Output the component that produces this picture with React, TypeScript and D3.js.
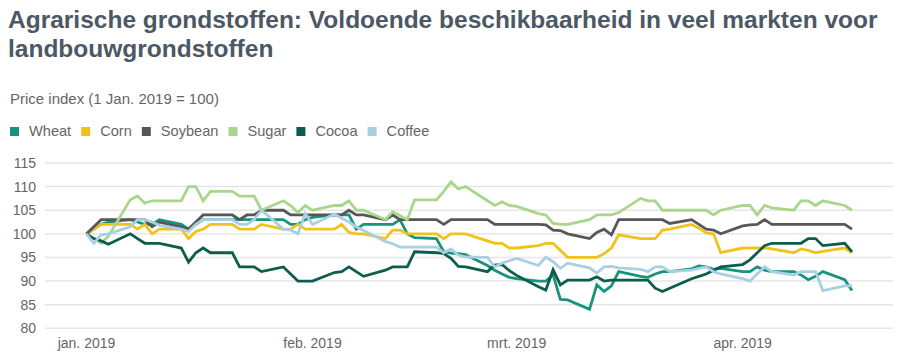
import React, { useEffect, useRef } from 'react';
import * as d3 from 'd3';

// trading days from 1 Jan. 2019 to 16 Apr. 2019 (weekdays only)
const dates = d3.utcDay
    .range(new Date(Date.UTC(2019, 0, 1)), new Date(Date.UTC(2019, 3, 17)))
    .filter(d => d.getUTCDay() !== 0 && d.getUTCDay() !== 6);

const seriesNames = ["Wheat", "Corn", "Soybean", "Sugar", "Cocoa", "Coffee"];
const seriesColors = ["#16947e", "#f1c21b", "#575757", "#a9d68b", "#0c5d4b", "#a8cfe2"];

const wheat = [
    100, 101, 102, 102.5,
    103, 102.5, 102, 102, 103,
    102, 101, 102, 103, 103,
    103, 103, 103, 103, 103,
    103, 102, 102, 103, 103.5,
    104, 104, 104, 101, 102,
    102, 102, 103, 100, 99.2,
    99, 96.2, 95.9, 95.8, 95.6,
    93.3, 92.3, 91.5, 90.8, 90.5,
    90, 90, 91.3, 86.1, 86,
    84, 89.2, 87.8, 89, 92,
    91, 90.8, 91.5, 92, 92,
    92.6, 93.2, 93, 92.5, 92.7,
    92, 92, 93, 92.3, 92,
    92, 91.3, 90.3, 91, 92,
    90.3, 88,
];
const corn = [
    100, 101, 102, 102,
    102, 101, 102, 100, 101,
    101, 99, 100.5, 101, 102,
    102, 101, 101, 101, 102,
    101, 101, 102, 101, 101,
    101, 102, 100.3, 100, 100,
    99, 100.8, 100.8, 100, 100,
    100, 99, 100, 100, 100,
    98.5, 98, 98, 97, 97,
    97.5, 98, 98, 96.5, 95,
    95, 95, 95.8, 97, 99.8,
    99, 99, 99, 100.8, 101,
    102, 101.2, 100.2, 100, 96,
    97, 97, 97, 97, 96.8,
    96, 96.8, 96.5, 96, 96.3,
    97, 96,
];
const soybean = [
    100, 101.5, 103, 103,
    103, 103, 103, 101.5, 102.5,
    101.5, 101, 102.5, 104, 104,
    104, 103, 104, 104, 105,
    105, 104, 104, 104, 104,
    104, 104, 105, 104, 104,
    103, 104, 103, 103, 103,
    103, 102, 103, 103, 103,
    103, 102, 102, 102, 102,
    102, 101.9, 100.8, 100.7, 100,
    99, 100.3, 101, 99.8, 103,
    103, 103, 103, 103, 102.2,
    103, 102, 101, 100.8, 100,
    101.7, 101.9, 102, 103, 102,
    102, 102, 102, 102, 102,
    102, 101,
];
const sugar = [
    100, 99, 98, 99.5,
    107.2, 108, 106.5, 107, 107,
    107, 110, 110, 107, 109,
    109, 108, 108, 108, 105,
    107, 106, 104.5, 106, 105,
    106, 106, 107, 105, 105,
    103, 104.7, 103.9, 103, 107.2,
    107.2, 109, 111, 109.5, 110,
    107, 106, 106.8, 106, 105.8,
    104.3, 104, 102.2, 102, 102,
    103, 104, 104, 104, 104.5,
    107.5, 107, 107, 105, 105,
    105, 105, 105, 104, 105,
    106, 106, 104, 106, 105.5,
    105, 107, 107, 106, 107,
    106, 105,
];
const cocoa = [
    100, 99, 98.5, 97.8,
    100, 99, 98, 98, 98,
    97, 94, 96, 97, 96,
    96, 93, 93, 93, 92,
    93, 91.5, 90, 90, 90,
    91.8, 92, 93, 92, 91,
    92.3, 93, 93, 93, 96.2,
    96, 95.8, 94.8, 93.1, 93,
    92, 93.4, 93.5, 92.2, 91.2,
    88.8, 88.1, 92.4, 89.2, 90.2,
    90.2, 90.9, 90, 90.2, 90.2,
    90.2, 90.2, 88.5, 87.8, 88.5,
    90.5, 91, 91.5, 92.3, 93,
    93.5, 94.5, 96, 97.5, 98,
    98, 98, 99, 99, 97.5,
    98, 96.2,
];
const coffee = [
    100, 98, 99.8, 100,
    101.5, 103, 103, 102.5, 101.8,
    101, 100.5, 102, 103, 103,
    103, 102, 102, 103, 105,
    101, 100.8, 100, 104.3, 102,
    104.2, 103.3, 102.5, 101.5, 100.7,
    98.4, 97.9, 97.2, 97.2, 97.2,
    97.2, 96, 96.8, 95.5, 95.1,
    95, 93, 93.8, 94.3, 94.8,
    93.3, 95.1, 94.1, 92.7, 93.8,
    92.8, 91.7, 93, 93.1, 92.8,
    92.5, 92, 93, 93, 92,
    92.3, 92.7, 93, 92, 91.5,
    90.5, 90, 91.5, 93, 92,
    91.3, 92, 92, 92, 88,
    89, 89,
];
const seriesValues = [wheat, corn, soybean, sugar, cocoa, coffee];

const yTicks = [80, 85, 90, 95, 100, 105, 110, 115];
const monthLabels = ["jan. 2019", "feb. 2019", "mrt. 2019", "apr. 2019"];

const title = ["Agrarische grondstoffen: Voldoende beschikbaarheid in veel markten voor", "landbouwgrondstoffen"];
const subtitle = "Price index (1 Jan. 2019 = 100)";

const font = "'Liberation Sans', Arial, sans-serif";

const App = () => {
    const svgRef = useRef<SVGSVGElement>(null);

    useEffect(() => {
        if (!svgRef.current) return;
        const svg = d3.select(svgRef.current);
        svg.selectAll("*").remove();

        const gridLeft = 45;
        const gridRight = 893;

        const x = d3.scaleUtc()
            .domain([dates[0], dates[dates.length - 1]])
            .range([86.5, 852]);
        const y = d3.scaleLinear()
            .domain([80, 115])
            .range([328.3, 163]);

        // title + subtitle
        svg.append("g").selectAll("text")
            .data(title)
            .enter().append("text")
            .attr("x", 8)
            .attr("y", (d, i) => 28 + i * 29)
            .attr("font-family", font)
            .attr("font-size", 24.5)
            .attr("font-weight", "bold")
            .attr("fill", "#4c5863")
            .text(d => d);

        svg.append("text")
            .attr("x", 10)
            .attr("y", 104)
            .attr("font-family", font)
            .attr("font-size", 15)
            .attr("fill", "#666")
            .text(subtitle);

        // legend
        const legend = svg.append("g");
        let lx = 10;
        seriesNames.forEach((name, i) => {
            legend.append("rect")
                .attr("x", lx)
                .attr("y", 127)
                .attr("width", 9)
                .attr("height", 9)
                .attr("fill", seriesColors[i]);
            const t = legend.append("text")
                .attr("x", lx + 19)
                .attr("y", 136)
                .attr("font-family", font)
                .attr("font-size", 14.6)
                .attr("fill", "#666")
                .text(name);
            lx += 19 + (t.node() as SVGTextElement).getComputedTextLength() + 10;
        });

        // grid lines + y labels
        svg.append("g").selectAll("line")
            .data(yTicks)
            .enter().append("line")
            .attr("x1", gridLeft)
            .attr("x2", gridRight)
            .attr("y1", d => y(d))
            .attr("y2", d => y(d))
            .attr("stroke", "#e6e6e6")
            .attr("stroke-width", 1.5);

        svg.append("g").selectAll("text")
            .data(yTicks)
            .enter().append("text")
            .attr("x", 36)
            .attr("y", d => y(d) + 5)
            .attr("text-anchor", "end")
            .attr("font-family", font)
            .attr("font-size", 14)
            .attr("fill", "#666")
            .text(d => d);

        // month labels
        const months = d3.utcMonth.range(dates[0], dates[dates.length - 1]);
        svg.append("g").selectAll("text")
            .data(months)
            .enter().append("text")
            .attr("x", d => x(d))
            .attr("y", 348)
            .attr("text-anchor", "middle")
            .attr("font-family", font)
            .attr("font-size", 14)
            .attr("fill", "#666")
            .text((d, i) => monthLabels[i]);

        // lines
        const line = d3.line<number>()
            .x((d, i) => x(dates[i]))
            .y(d => y(d));

        svg.append("g").selectAll("path")
            .data(seriesValues)
            .enter().append("path")
            .attr("fill", "none")
            .attr("stroke", (d, i) => seriesColors[i])
            .attr("stroke-width", 2.8)
            .attr("d", d => line(d));
    }, []);

    return (
        <svg
            ref={svgRef}
            width={907}
            height={364}
            style={{ position: 'absolute', left: 0, top: 0, background: '#fff' }}
        />
    );
};

export default App;
